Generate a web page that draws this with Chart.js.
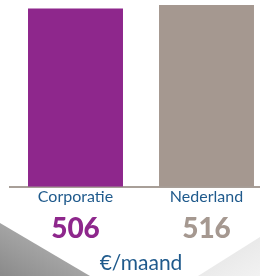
<!DOCTYPE html>
<html>
<head>
<meta charset="utf-8">
<script src="https://cdn.jsdelivr.net/npm/chart.js"></script>
<style>
  html, body { margin: 0; padding: 0; background: #fff; overflow: hidden; }
  #wrap { position: relative; width: 260px; height: 276px; overflow: hidden; }
  .wedge { position: absolute; left: 0; top: 0; width: 260px; height: 276px; }
  #wedgeLeft {
    background: linear-gradient(30deg, #8a8a8a 0%, #dedede 40%, #f2f2f2 55%, #7e7e7e 100%);
    clip-path: polygon(0 223px, 90px 276px, 0 276px);
  }
  #wedgeRight {
    background: linear-gradient(150deg, #2e2e2e 0%, #6a6a6a 35%, #d6d6d6 70%, #f2f2f2 100%);
    clip-path: polygon(260px 237px, 260px 276px, 198px 276px);
  }
  #rentChart { position: absolute; left: 0; top: 0; }
</style>
</head>
<body>
<div id="wrap">
  <div class="wedge" id="wedgeLeft"></div>
  <div class="wedge" id="wedgeRight"></div>
  <canvas id="rentChart" width="272" height="276"></canvas>
</div>
<script>
// Huurprijs per maand: corporatie vs. Nederland
const categories = ['Corporatie', 'Nederland'];
const rentValues = [506, 516];
const barColors = ['#8e278c', '#a59890'];
const unitLabel = '€/maand';

const labelBlue = '#1f5a8c';

// draws the big value under each category and the unit below it
const valueLabels = {
  id: 'valueLabels',
  afterDraw(chart) {
    const ctx = chart.ctx;
    const x = chart.scales.x;
    ctx.save();
    ctx.textAlign = 'center';
    ctx.textBaseline = 'alphabetic';
    ctx.font = '900 28px Lato';
    rentValues.forEach((v, i) => {
      ctx.fillStyle = barColors[i];
      ctx.fillText(String(v), x.getPixelForValue(i), 238);
    });
    ctx.font = '21px Lato';
    ctx.fillStyle = labelBlue;
    ctx.fillText(unitLabel, (chart.chartArea.left + chart.chartArea.right) / 2, 270);
    ctx.restore();
  }
};

new Chart(document.getElementById('rentChart').getContext('2d'), {
  type: 'bar',
  data: {
    labels: categories,
    datasets: [{
      data: rentValues,
      backgroundColor: barColors,
      borderWidth: 0,
      categoryPercentage: 0.725,
      barPercentage: 1
    }]
  },
  options: {
    responsive: false,
    animation: false,
    layout: { padding: { left: 10, top: 0, right: 0, bottom: 70 } },
    plugins: { legend: { display: false }, tooltip: { enabled: false } },
    scales: {
      y: { display: false, min: 0, max: 530 },
      x: {
        grid: { display: false, drawTicks: false },
        border: { display: true, color: '#a89f98', width: 2 },
        ticks: { padding: 0, color: labelBlue, font: { family: 'Lato', size: 16 } }
      }
    }
  },
  plugins: [valueLabels]
});
</script>
</body>
</html>
